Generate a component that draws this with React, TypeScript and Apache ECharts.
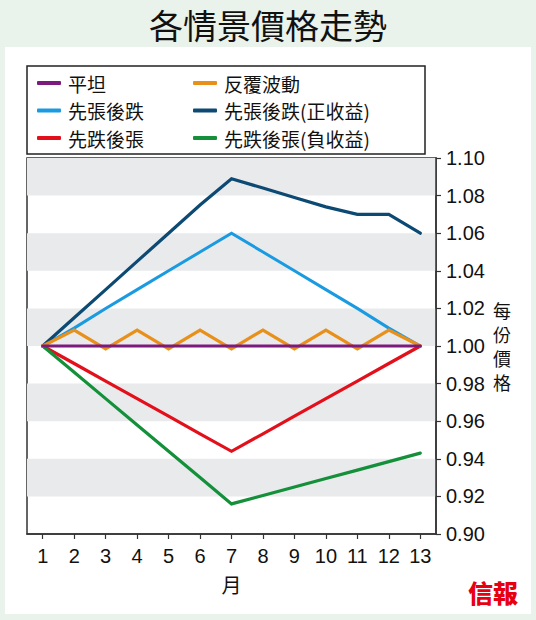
import React, { useEffect, useRef } from "react";
import * as echarts from "echarts";

const months = ["1", "2", "3", "4", "5", "6", "7", "8", "9", "10", "11", "12", "13"];
const flat = [1.0, 1.0, 1.0, 1.0, 1.0, 1.0, 1.0, 1.0, 1.0, 1.0, 1.0, 1.0, 1.0];
const zigzag = [1.0, 1.0085, 0.9985, 1.0085, 0.9985, 1.0085, 0.9985, 1.0085, 0.9985, 1.0085, 0.9985, 1.0085, 1.0];
const riseFall = [1.0, 1.0095, 1.02, 1.03, 1.04, 1.05, 1.06, 1.05, 1.04, 1.03, 1.02, 1.0095, 1.0];
const riseFallPos = [1.0, 1.015, 1.03, 1.045, 1.06, 1.075, 1.089, 1.084, 1.079, 1.074, 1.07, 1.07, 1.06];
const fallRise = [1.0, 0.9907, 0.9813, 0.972, 0.9627, 0.9533, 0.944, 0.9533, 0.9627, 0.972, 0.9813, 0.9907, 1.0];
const fallRiseNeg = [1.0, 0.986, 0.972, 0.958, 0.944, 0.93, 0.916, 0.9205, 0.925, 0.9295, 0.934, 0.9385, 0.943];

const names = {
  flat: "平坦",
  zigzag: "反覆波動",
  riseFall: "先張後跌",
  riseFallPos: "先張後跌(正收益)",
  fallRise: "先跌後張",
  fallRiseNeg: "先跌後張(負收益)",
};

const CJK = "'Noto Sans CJK TC', 'Noto Sans CJK SC', sans-serif";
const NUM = "'Liberation Sans', Arial, sans-serif";

export default function App() {
  const ref = useRef<HTMLDivElement>(null);
  useEffect(() => {
    if (!ref.current) return;
    const chart = echarts.init(ref.current, undefined, { renderer: "svg" });
    const line = (name: string, data: number[], color: string, width = 3) => ({
      name,
      type: "line",
      data,
      showSymbol: false,
      symbol: "none",
      lineStyle: { color, width, cap: "round", join: "miter" },
      itemStyle: { color },
      emphasis: { disabled: true },
    });
    const legendCommon = {
      orient: "vertical",
      top: 73,
      itemWidth: 24,
      itemHeight: 4,
      itemGap: 7.5,
      icon: "roundRect",
      padding: 0,
      selectedMode: false,
      textStyle: { fontFamily: CJK, fontSize: 19, color: "#111", lineHeight: 20, padding: [0, 0, 0, 2] },
    };
    chart.setOption({
      animation: false,
      backgroundColor: "#e9f3eb",
      title: {
        text: "各情景價格走勢",
        left: "center",
        top: 7,
        padding: 0,
        textStyle: { fontFamily: CJK, fontSize: 34, fontWeight: "normal", color: "#111" },
      },
      graphic: [
        { type: "rect", z: -10, shape: { x: 5, y: 47, width: 526, height: 567 }, style: { fill: "#ffffff" }, silent: true },
        { type: "rect", z: 10, shape: { x: 27, y: 66, width: 398, height: 88 }, style: { fill: "none", stroke: "#222", lineWidth: 1.5 }, silent: true },
        {
          type: "text",
          z: 10,
          x: 468,
          y: 579,
          style: { text: "信報", fill: "#e60012", font: `900 25px ${CJK}` },
          silent: true,
        },
      ],
      legend: [
        { ...legendCommon, left: 37, data: [names.flat, names.riseFall, names.fallRise] },
        { ...legendCommon, left: 193, data: [names.zigzag, names.riseFallPos, names.fallRiseNeg] },
      ],
      grid: {
        left: 27,
        top: 158,
        width: 409,
        height: 376,
        show: true,
        borderColor: "#333",
        borderWidth: 1.5,
        backgroundColor: "transparent",
      },
      xAxis: {
        type: "category",
        data: months,
        boundaryGap: true,
        name: "月",
        nameLocation: "middle",
        nameGap: 40,
        nameTextStyle: { fontFamily: CJK, fontSize: 20, color: "#111" },
        axisLine: { show: true, lineStyle: { color: "#333", width: 1.5 } },
        axisTick: { show: true, alignWithLabel: true, length: 5, lineStyle: { color: "#333", width: 1.2 } },
        axisLabel: { margin: 12, fontFamily: NUM, fontSize: 20, color: "#111", interval: 0 },
        splitLine: { show: false },
      },
      yAxis: {
        type: "value",
        position: "right",
        min: 0.9,
        max: 1.1,
        interval: 0.02,
        name: "每\n份\n價\n格",
        nameLocation: "middle",
        nameRotate: 0,
        nameGap: 57,
        nameTextStyle: { fontFamily: CJK, fontSize: 18, color: "#111", lineHeight: 24, align: "left" },
        axisLine: { show: true, lineStyle: { color: "#333", width: 1.5 } },
        axisTick: { show: true, length: 5, lineStyle: { color: "#333", width: 1.2 } },
        axisLabel: {
          margin: 10,
          fontFamily: NUM,
          fontSize: 20,
          color: "#111",
          formatter: (v: number) => v.toFixed(2),
        },
        splitLine: { show: false },
        splitArea: { show: true, areaStyle: { color: ["rgba(255,255,255,0)", "#e9eaec"] } },
      },
      series: [
        line(names.riseFall, riseFall, "#1a9ae0"),
        line(names.riseFallPos, riseFallPos, "#0c4a74", 3.2),
        line(names.fallRise, fallRise, "#e3101b", 3.2),
        line(names.fallRiseNeg, fallRiseNeg, "#14903a", 3.2),
        line(names.zigzag, zigzag, "#e8901a", 3.2),
        line(names.flat, flat, "#7d1a7d", 3.2),
      ],
    });
    return () => chart.dispose();
  }, []);
  return <div ref={ref} style={{ position: "fixed", left: 0, top: 0, width: 536, height: 620 }} />;
}
